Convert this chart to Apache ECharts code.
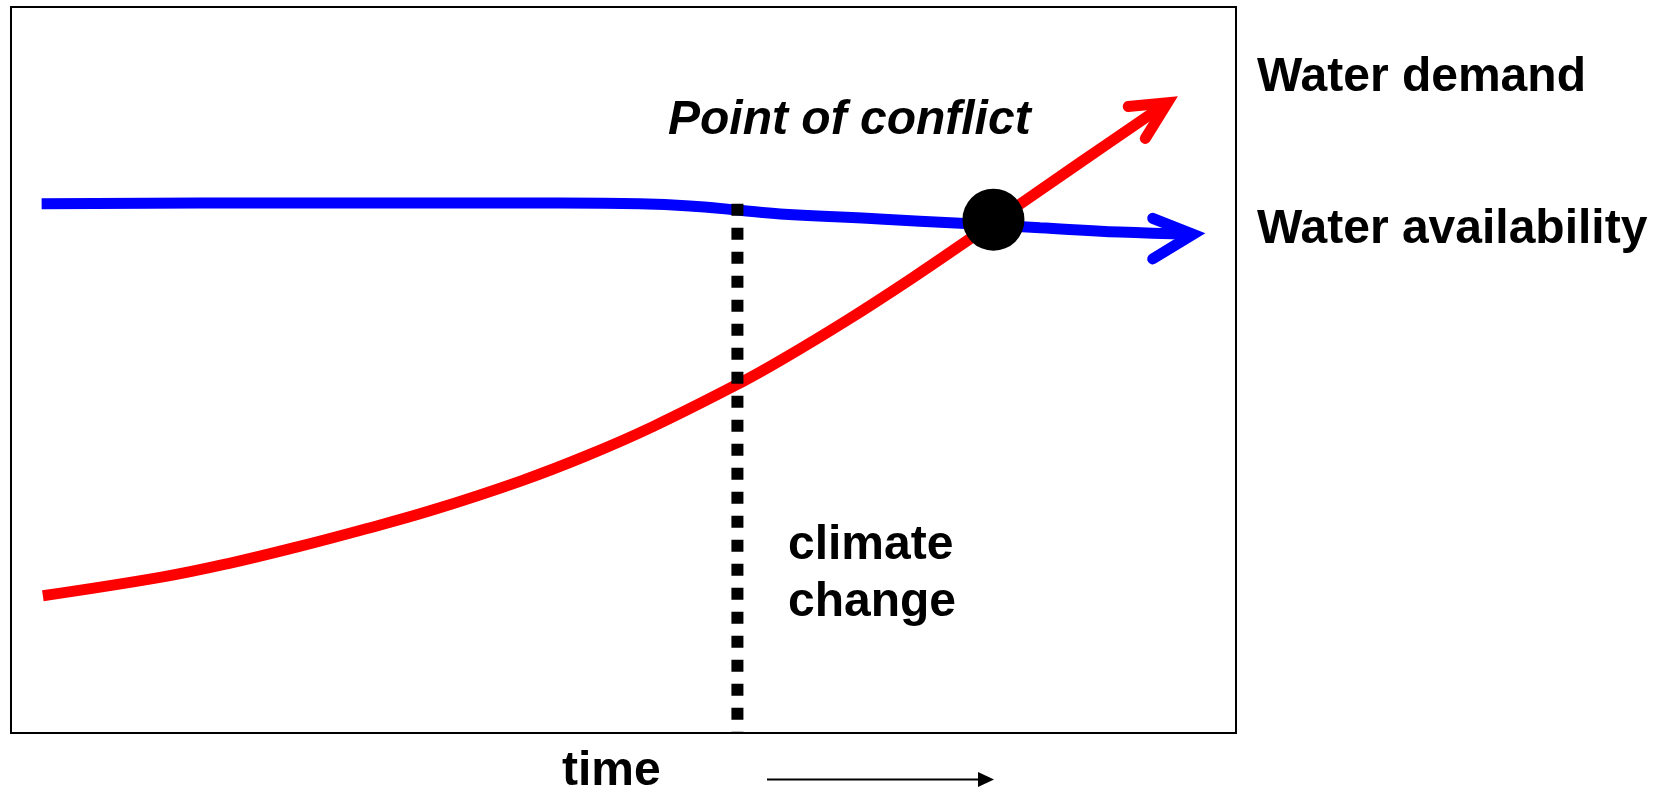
<!DOCTYPE html>
<html>
<head>
<meta charset="utf-8">
<title>Water demand vs availability</title>
<script src="https://cdn.jsdelivr.net/npm/echarts@6/dist/echarts.min.js"></script>
<style>
  html, body { margin: 0; padding: 0; background: #fff; }
  #chart { width: 1659px; height: 793px; }
</style>
</head>
<body>
<div id="chart"></div>
<script>
// time runs 0..100 along x, level 0..100 along y (arbitrary units, schematic)
var availability = [
  [2.5, 72.9], [15.4, 73.0], [33.4, 73.0], [44.8, 73.0], [51.3, 72.9],
  [55.4, 72.6], [59.5, 72.0], [62.8, 71.5], [70.9, 70.8], [77.5, 70.2],
  [84.0, 69.6], [90.5, 69.0], [96.5, 68.7]
]
var availabilityHead = [[93.2, 70.9], [96.5, 68.7], [93.2, 65.3]]

var demand = [
  [2.6, 18.9], [12.4, 21.5], [17.9, 23.4], [23.3, 25.6], [28.7, 28.0],
  [34.2, 30.6], [41.6, 34.7], [47.0, 38.2], [52.4, 42.2], [59.5, 48.2],
  [62.8, 51.3], [68.2, 56.8], [73.6, 62.7], [78.3, 68.1], [87.3, 78.6],
  [94.4, 86.8]
]
var demandHead = [[91.2, 86.3], [94.4, 86.8], [92.6, 81.9]]

var climateChange = [[59.3, 72.9], [59.3, 0]]
var conflictPoint = [[80.2, 70.7]]

var labels = {
  conflict: 'Point of conflict',
  demand: 'Water demand',
  availability: 'Water availability',
  climate: ['climate', 'change'],
  time: 'time'
}

var FONT = '"Liberation Sans", Arial, sans-serif'

function textEl (text, x, y, italic) {
  return {
    type: 'text',
    x: x,
    y: y,
    style: {
      text: text,
      font: (italic ? 'italic ' : '') + 'bold 48px ' + FONT,
      fill: '#000',
      verticalAlign: 'middle'
    }
  }
}

function getOptions () {
  return {
    animation: false,
    grid: {
      left: 11,
      top: 7,
      width: 1225,
      height: 726,
      show: true,
      borderColor: '#000',
      borderWidth: 2
    },
    xAxis: {
      type: 'value',
      min: 0,
      max: 100,
      axisLine: {show: false},
      axisTick: {show: false},
      axisLabel: {show: false},
      splitLine: {show: false}
    },
    yAxis: {
      type: 'value',
      min: 0,
      max: 100,
      axisLine: {show: false},
      axisTick: {show: false},
      axisLabel: {show: false},
      splitLine: {show: false}
    },
    series: [{
      name: 'Water availability',
      type: 'line',
      smooth: 0.4,
      symbol: 'none',
      lineStyle: {color: '#0000ff', width: 11, cap: 'butt'},
      data: availability,
      z: 2
    }, {
      name: 'availability arrow',
      type: 'line',
      symbol: 'none',
      lineStyle: {color: '#0000ff', width: 11, cap: 'round', join: 'miter'},
      data: availabilityHead,
      z: 2
    }, {
      name: 'Water demand',
      type: 'line',
      smooth: 0.4,
      symbol: 'none',
      lineStyle: {color: '#ff0000', width: 11, cap: 'butt'},
      data: demand,
      z: 3
    }, {
      name: 'demand arrow',
      type: 'line',
      symbol: 'none',
      lineStyle: {color: '#ff0000', width: 11, cap: 'round', join: 'miter'},
      data: demandHead,
      z: 3
    }, {
      name: 'climate change',
      type: 'line',
      symbol: 'none',
      lineStyle: {color: '#000', width: 12, type: [12, 12], cap: 'butt'},
      data: climateChange,
      z: 4
    }, {
      name: 'Point of conflict',
      type: 'scatter',
      symbol: 'circle',
      symbolSize: 62,
      itemStyle: {color: '#000', opacity: 1},
      data: conflictPoint,
      z: 5
    }],
    graphic: [
      textEl(labels.conflict, 668, 121, true),
      textEl(labels.demand, 1257, 78),
      textEl(labels.availability, 1257, 230),
      textEl(labels.climate[0], 788, 546),
      textEl(labels.climate[1], 788, 603),
      textEl(labels.time, 562, 772),
      {
        type: 'line',
        shape: {x1: 767, y1: 779.5, x2: 982, y2: 779.5},
        style: {stroke: '#000', lineWidth: 2}
      },
      {
        type: 'polygon',
        shape: {points: [[978, 772], [994, 779.5], [978, 787]]},
        style: {fill: '#000'}
      }
    ]
  }
}

var chart = echarts.init(document.getElementById('chart'))
chart.setOption(getOptions())
</script>
</body>
</html>
